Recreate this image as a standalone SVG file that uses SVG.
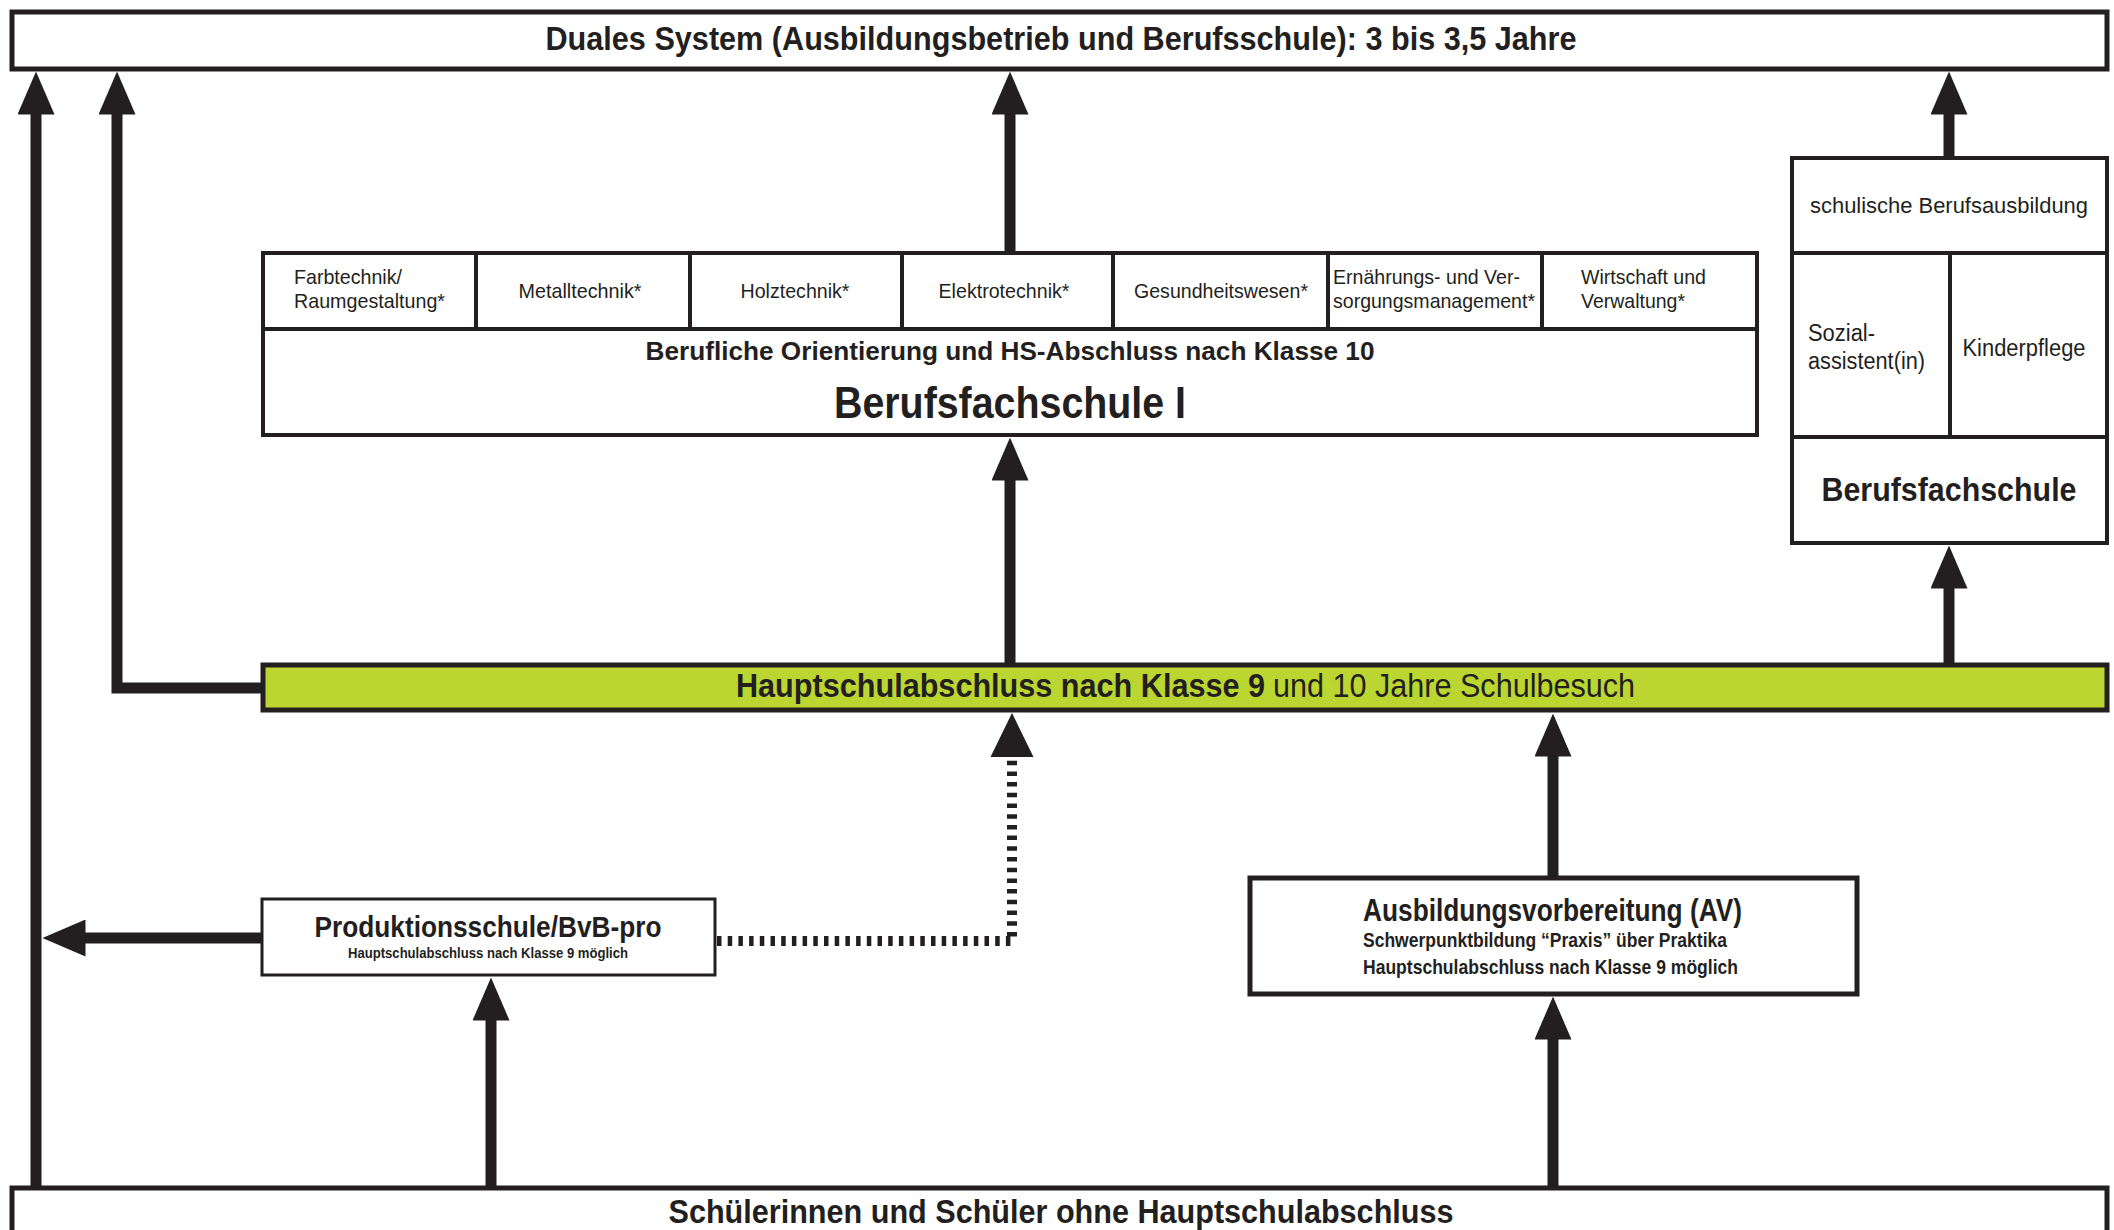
<svg xmlns="http://www.w3.org/2000/svg" width="2114" height="1230" viewBox="0 0 2114 1230">
<defs>
<style>
.box{fill:#fff;stroke:#231f20;}
.t{font-family:"Liberation Sans Narrow","Liberation Sans",Arial,sans-serif;fill:#231f20;}
.b{font-weight:bold;}
.c{text-anchor:middle;}
.conn{fill:none;stroke:#231f20;stroke-width:11;}
.dot{fill:none;stroke:#231f20;stroke-width:10;stroke-dasharray:4.5 6.2;}
.div{stroke:#231f20;stroke-width:4;}
</style>
<marker id="ah" viewBox="0 0 43 37" markerWidth="43" markerHeight="37" refX="0.5" refY="18.5" orient="auto" markerUnits="userSpaceOnUse">
<path d="M0,0 L43,18.5 L0,37 Z" fill="#231f20"/>
</marker>
</defs>
<rect width="2114" height="1230" fill="#fff"/>

<g id="connectors">
<path class="conn" d="M36,1188 V114" marker-end="url(#ah)"/>
<path class="conn" d="M265,688 H117 V114" marker-end="url(#ah)"/>
<path class="conn" d="M1010,665 V480" marker-end="url(#ah)"/>
<path class="conn" d="M1010,253 V114" marker-end="url(#ah)"/>
<path class="conn" d="M1949,665 V588" marker-end="url(#ah)"/>
<path class="conn" d="M1949,158 V114" marker-end="url(#ah)"/>
<path class="conn" d="M262,938 H85" marker-end="url(#ah)"/>
<path class="conn" d="M491,1188 V1020" marker-end="url(#ah)"/>
<path class="conn" d="M1553,878 V756" marker-end="url(#ah)"/>
<path class="conn" d="M1553,1188 V1039" marker-end="url(#ah)"/>
<path class="dot" d="M717,941 H1012 V757"/>
<path d="M990.5,757 L1012,713 L1033.5,757 Z" fill="#231f20"/>
</g>

<g id="duales-system">
<rect class="box" x="12" y="12" width="2095" height="57" stroke-width="5"/>
<text class="t b c" x="1061" y="50" font-size="33" textLength="1031" lengthAdjust="spacingAndGlyphs">Duales System (Ausbildungsbetrieb und Berufsschule): 3 bis 3,5 Jahre</text>
</g>

<g id="berufsfachschule-1">
<rect class="box" x="263" y="253" width="1494" height="182" stroke-width="4"/>
<line class="div" x1="263" y1="329" x2="1757" y2="329"/>
<line class="div" x1="476" y1="253" x2="476" y2="329"/>
<line class="div" x1="690" y1="253" x2="690" y2="329"/>
<line class="div" x1="902" y1="253" x2="902" y2="329"/>
<line class="div" x1="1113" y1="253" x2="1113" y2="329"/>
<line class="div" x1="1328" y1="253" x2="1328" y2="329"/>
<line class="div" x1="1542" y1="253" x2="1542" y2="329"/>
<text class="t" x="294" y="284" font-size="21" textLength="108" lengthAdjust="spacingAndGlyphs">Farbtechnik/</text>
<text class="t" x="294" y="308" font-size="21" textLength="151" lengthAdjust="spacingAndGlyphs">Raumgestaltung*</text>
<text class="t c" x="580" y="298" font-size="21" textLength="123" lengthAdjust="spacingAndGlyphs">Metalltechnik*</text>
<text class="t c" x="795" y="298" font-size="21" textLength="109" lengthAdjust="spacingAndGlyphs">Holztechnik*</text>
<text class="t c" x="1004" y="298" font-size="21" textLength="131" lengthAdjust="spacingAndGlyphs">Elektrotechnik*</text>
<text class="t c" x="1221" y="298" font-size="21" textLength="174" lengthAdjust="spacingAndGlyphs">Gesundheitswesen*</text>
<text class="t" x="1333" y="284" font-size="21" textLength="187" lengthAdjust="spacingAndGlyphs">Ernährungs- und Ver-</text>
<text class="t" x="1333" y="308" font-size="21" textLength="202" lengthAdjust="spacingAndGlyphs">sorgungsmanagement*</text>
<text class="t" x="1581" y="284" font-size="21" textLength="125" lengthAdjust="spacingAndGlyphs">Wirtschaft und</text>
<text class="t" x="1581" y="308" font-size="21" textLength="104" lengthAdjust="spacingAndGlyphs">Verwaltung*</text>
<text class="t b c" x="1010" y="360" font-size="25" textLength="729" lengthAdjust="spacingAndGlyphs">Berufliche Orientierung und HS-Abschluss nach Klasse 10</text>
<text class="t b c" x="1010" y="418" font-size="44" textLength="352" lengthAdjust="spacingAndGlyphs">Berufsfachschule I</text>
</g>

<g id="berufsfachschule-rechts">
<rect class="box" x="1792" y="158" width="315" height="385" stroke-width="4"/>
<line class="div" x1="1792" y1="253" x2="2107" y2="253"/>
<line class="div" x1="1792" y1="437" x2="2107" y2="437"/>
<line class="div" x1="1950" y1="253" x2="1950" y2="437"/>
<text class="t c" x="1949" y="213" font-size="22" textLength="278" lengthAdjust="spacingAndGlyphs">schulische Berufsausbildung</text>
<text class="t" x="1808" y="341" font-size="23" textLength="67" lengthAdjust="spacingAndGlyphs">Sozial-</text>
<text class="t" x="1808" y="369" font-size="23" textLength="117" lengthAdjust="spacingAndGlyphs">assistent(in)</text>
<text class="t c" x="2024" y="356" font-size="23" textLength="123" lengthAdjust="spacingAndGlyphs">Kinderpflege</text>
<text class="t b c" x="1949" y="501" font-size="33" textLength="255" lengthAdjust="spacingAndGlyphs">Berufsfachschule</text>
</g>

<g id="hauptschulabschluss">
<rect x="263" y="665" width="1844" height="45" fill="#bcd631" stroke="#231f20" stroke-width="5"/>
<text class="t b" x="736" y="697" font-size="33" textLength="529" lengthAdjust="spacingAndGlyphs">Hauptschulabschluss nach Klasse 9</text>
<text class="t" x="1273" y="697" font-size="33" textLength="362" lengthAdjust="spacingAndGlyphs">und 10 Jahre Schulbesuch</text>
</g>

<g id="produktionsschule">
<rect class="box" x="262" y="899" width="453" height="76" stroke-width="3"/>
<text class="t b c" x="488" y="937" font-size="30" textLength="347" lengthAdjust="spacingAndGlyphs">Produktionsschule/BvB-pro</text>
<text class="t b c" x="488" y="958" font-size="14" textLength="280" lengthAdjust="spacingAndGlyphs">Hauptschulabschluss nach Klasse 9 möglich</text>
</g>

<g id="ausbildungsvorbereitung">
<rect class="box" x="1250" y="878" width="607" height="116" stroke-width="5"/>
<text class="t b" x="1363" y="921" font-size="31" textLength="379" lengthAdjust="spacingAndGlyphs">Ausbildungsvorbereitung (AV)</text>
<text class="t b" x="1363" y="947" font-size="21" textLength="364" lengthAdjust="spacingAndGlyphs">Schwerpunktbildung “Praxis” über Praktika</text>
<text class="t b" x="1363" y="974" font-size="21" textLength="375" lengthAdjust="spacingAndGlyphs">Hauptschulabschluss nach Klasse 9 möglich</text>
</g>

<g id="schueler">
<rect class="box" x="12" y="1188" width="2095" height="60" stroke-width="5"/>
<text class="t b c" x="1061" y="1223" font-size="33" textLength="785" lengthAdjust="spacingAndGlyphs">Schülerinnen und Schüler ohne Hauptschulabschluss</text>
</g>
</svg>
